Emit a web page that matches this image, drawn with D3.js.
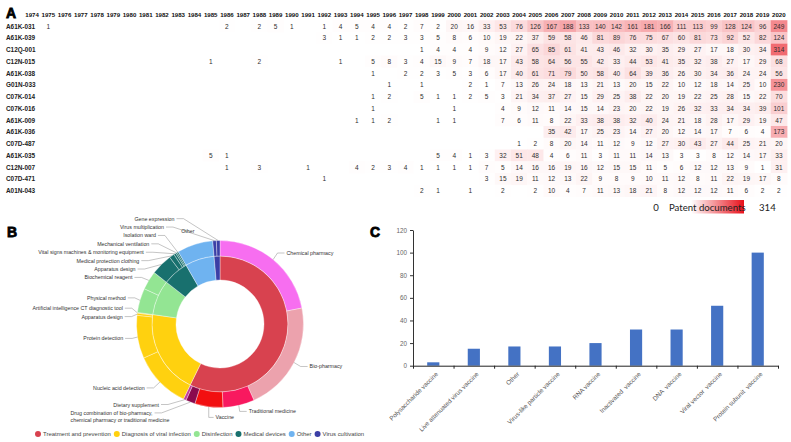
<!DOCTYPE html>
<html>
<head>
<meta charset="utf-8">
<script src="https://cdn.jsdelivr.net/npm/d3@7"></script>
<style>
  body { margin: 0; background: #fff; }
  svg { display: block; font-family: "Liberation Sans", Arial, sans-serif; }
  .pre { white-space: pre; }
</style>
</head>
<body>
<script>
// ---- A: patent heatmap data
const years = [1974, 1975, 1976, 1977, 1978, 1979, 1980, 1981, 1982, 1983, 1984, 1985, 1986, 1987, 1988, 1989,
  1990, 1991, 1992, 1993, 1994, 1995, 1996, 1997, 1998, 1999, 2000, 2001, 2002, 2003, 2004, 2005, 2006, 2007,
  2008, 2009, 2010, 2011, 2012, 2013, 2014, 2015, 2016, 2017, 2018, 2019, 2020];
const codes = ["A61K-031", "A61K-039", "C12Q-001", "C12N-015", "A61K-038", "G01N-033", "C07K-014", "C07K-016",
  "A61K-009", "A61K-036", "C07D-487", "A61K-035", "C12N-007", "C07D-471", "A01N-043"];
// 0 = empty cell
const rowA61K031 = [0,1,0,0,0,0,0,0,0,0,0,0, 2,0,2,5,1,0, 1,4,5,4,4,2,7,2,20,16,33,53,76, 126,167,188,133,140,142,161,181,166,111,113,99,128,124,96,249];
const rowA61K039 = [0,0,0,0,0,0,0,0,0,0,0,0, 0,0,0,0,0,0, 3,1,1,2,2,3,3,5,8,6,10,19,22, 37,59,58,46,81,89,76,75,67,60,81,73,92,52,82,124];
const rowC12Q001 = [0,0,0,0,0,0,0,0,0,0,0,0, 0,0,0,0,0,0, 0,0,0,0,0,0,1,4,4,4,9,12,27, 65,85,61,41,43,46,32,30,35,29,27,17,18,30,34,314];
const rowC12N015 = [0,0,0,0,0,0,0,0,0,0,0,1, 0,0,2,0,0,0, 0,1,0,5,8,3,4,15,9,7,18,17,43, 58,64,56,55,42,33,44,53,41,35,32,38,27,17,29,68];
const rowA61K038 = [0,0,0,0,0,0,0,0,0,0,0,0, 0,0,0,0,0,0, 0,0,0,1,0,2,2,3,5,3,6,17,40, 61,71,79,50,58,40,64,39,36,26,30,34,36,24,24,56];
const rowG01N033 = [0,0,0,0,0,0,0,0,0,0,0,0, 0,0,0,0,0,0, 0,0,0,0,1,0,1,0,0,2,1,7,13, 26,24,18,13,21,13,20,15,22,10,12,18,14,25,10,230];
const rowC07K014 = [0,0,0,0,0,0,0,0,0,0,0,0, 0,0,0,0,0,0, 0,0,0,1,2,0,5,1,1,2,5,3,21, 34,37,27,15,29,25,38,22,20,19,22,25,28,15,22,70];
const rowC07K016 = [0,0,0,0,0,0,0,0,0,0,0,0, 0,0,0,0,0,0, 0,0,0,1,0,0,0,0,1,0,0,4,9, 12,11,14,15,14,23,20,22,19,26,32,33,34,34,39,101];
const rowA61K009 = [0,0,0,0,0,0,0,0,0,0,0,0, 0,0,0,0,0,0, 0,0,1,1,2,0,0,1,1,0,0,7,6, 11,8,22,33,38,38,32,40,24,21,18,28,17,29,19,47];
const rowA61K036 = [0,0,0,0,0,0,0,0,0,0,0,0, 0,0,0,0,0,0, 0,0,0,0,0,0,0,0,0,0,0,0,0, 0,35,42,17,25,23,14,27,20,12,14,17,7,6,4,173];
const rowC07D487 = [0,0,0,0,0,0,0,0,0,0,0,0, 0,0,0,0,0,0, 0,0,0,0,0,0,0,0,0,0,0,0,1, 2,8,20,14,11,12,9,12,27,30,43,27,44,25,21,20];
const rowA61K035 = [0,0,0,0,0,0,0,0,0,0,0,5, 1,0,0,0,0,0, 0,0,0,0,0,0,0,5,4,1,3,32,51, 48,4,6,11,3,11,11,14,13,3,3,8,12,14,17,33];
const rowC12N007 = [0,0,0,0,0,0,0,0,0,0,0,0, 1,0,3,0,0,1, 0,0,4,2,3,4,1,1,1,1,7,5,14, 16,16,19,16,12,15,15,11,5,6,12,12,13,9,1,31];
const rowC07D471 = [0,0,0,0,0,0,0,0,0,0,0,0, 0,0,0,0,0,0, 1,0,0,0,0,0,0,0,0,0,3,15,19, 11,12,13,22,9,8,9,10,11,12,8,11,22,19,17,8];
const rowA01N043 = [0,0,0,0,0,0,0,0,0,0,0,0, 0,0,0,0,0,0, 0,0,0,0,0,0,2,1,0,1,0,2,0, 2,10,4,7,11,13,18,21,8,12,12,12,11,6,2,2];
const counts = [rowA61K031, rowA61K039, rowC12Q001, rowC12N015, rowA61K038, rowG01N033, rowC07K014, rowC07K016,
  rowA61K009, rowA61K036, rowC07D487, rowA61K035, rowC12N007, rowC07D471, rowA01N043];
const legendRange = [0, 314];

// ---- B: sunburst data (shares in degrees of the ring)
const mainCats = ["Treatment and prevention", "Diagnosis of viral infection", "Disinfection", "Medical devices", "Other", "Virus cultivation"];
const mainColors = ["#d8424f", "#ffd10f", "#93e593", "#18706e", "#6fb3f0", "#3b3fa6"];
const subNames = ["Chemical pharmacy", "Bio-pharmacy", "Traditional medicine", "Vaccine",
  "Drug combination of bio-pharmacy,|chemical pharmacy or traditional medicine", "Dietary supplement",
  "Nucleic acid detection", "Protein detection", "Apparatus design", "Artificial intelligence CT diagnostic tool",
  "Physical method", "Biochemical reagent",
  "Apparatus design", "Medical protection clothing", "Vital signs machines & monitoring equipment", "Mechanical ventilation", "Isolation ward",
  "Other",
  "Virus multiplication", "Gene expression"];
const subParents = [0, 0, 0, 0, 0, 0, 1, 1, 1, 1, 2, 2, 3, 3, 3, 3, 3, 4, 5, 5];
const subShares = [79, 77, 22, 19.5, 6.5, 2, 40, 30, 1.5, 0.5, 17, 13, 15, 3.5, 1.5, 1, 1, 25, 2.5, 2.5];
const subColors = ["#f76ef0", "#eca2ad", "#f8195f", "#f20f10", "#8a0a4e", "#c23d9e"];

// ---- C: vaccine bar data
const vaccineTypes = ["Polysaccharide vaccine", "Live attenuated virus vaccine", "Other", "Virus-like particle vaccine",
  "RNA vaccine", "Inactivated  vaccine", "DNA  vaccine", "Viral vector  vaccine", "Protein subunit  vaccine"];
const vaccineCounts = [3, 15, 17, 17, 20, 32, 32, 53, 100];
const yTicks = [0, 20, 40, 60, 80, 100, 120];

const width = 791, height = 442;
const svg = d3.select("body").append("svg").attr("width", width).attr("height", height);

const panelLetter = (t, x, y) => svg.append("text").attr("x", x).attr("y", y).text(t)
  .attr("font-size", 14).attr("font-weight", 900).attr("fill", "#000")
  .attr("stroke", "#000").attr("stroke-width", 0.8);

// ================= A =================
const hx = d3.scaleBand().domain(years).range([24, 787]);
const hy = d3.scaleBand().domain(codes).range([20.2, 196.5]);
const heat = v => d3.interpolateRgb("#ffffff", "#e8101a")(0.62 * v / legendRange[1]);

const cells = codes.flatMap((c, i) => years.map((yr, j) => ({code: c, year: yr, v: counts[i][j]})))
  .filter(d => d.v > 0);

const gA = svg.append("g");
gA.append("g").selectAll("rect").data(cells).join("rect")
  .attr("x", d => hx(d.year)).attr("y", d => hy(d.code))
  .attr("width", hx.bandwidth() + 0.4).attr("height", hy.bandwidth() + 0.4)
  .attr("fill", d => heat(d.v));

gA.append("g").selectAll("text").data(cells).join("text")
  .attr("x", d => hx(d.year) + hx.bandwidth() / 2).attr("y", d => hy(d.code) + hy.bandwidth() / 2)
  .attr("text-anchor", "middle").attr("dominant-baseline", "central")
  .attr("font-size", 6.5).attr("fill", "#2f2f2f").text(d => d.v);

gA.append("g").selectAll("text").data(years).join("text")
  .attr("x", d => hx(d) + hx.bandwidth() / 2).attr("y", 14)
  .attr("text-anchor", "middle").attr("dominant-baseline", "central")
  .attr("font-size", 6.1).attr("font-weight", "bold").attr("fill", "#111").text(d => d);

gA.append("g").selectAll("text").data(codes).join("text")
  .attr("x", 6).attr("y", d => hy(d) + hy.bandwidth() / 2)
  .attr("dominant-baseline", "central")
  .attr("font-size", 6.4).attr("font-weight", "bold").attr("fill", "#222").text(d => d);

panelLetter("A", 6, 18);

// legend
const grad = svg.append("defs").append("linearGradient").attr("id", "heatGrad");
grad.append("stop").attr("offset", "0%").attr("stop-color", "#ffffff");
grad.append("stop").attr("offset", "100%").attr("stop-color", "#e8101a");
const legY = 207;
gA.append("rect").attr("x", 691).attr("y", legY - 7).attr("width", 53).attr("height", 13.5).attr("fill", "url(#heatGrad)");
const legText = [[656, legendRange[0], "middle"], [669, "Patent documents", "start"], [759, legendRange[1], "start"]];
gA.append("g").selectAll("text").data(legText).join("text")
  .attr("x", d => d[0]).attr("y", legY).attr("text-anchor", d => d[2]).attr("dominant-baseline", "central")
  .attr("font-family", "Lato, 'Open Sans', sans-serif").attr("font-size", 9.6).attr("fill", "#222").text(d => d[1]);

// ================= B =================
const cx = 220, cy = 324;
const r0 = 44, r1 = 68, r2 = 83.5;
const subs = subNames.map((n, i) => ({
  name: n, lines: n.split("|"), parent: subParents[i], v: subShares[i],
  color: subColors[i] || mainColors[subParents[i]]
}));
const mains = mainCats.map((c, i) => ({name: c, color: mainColors[i], v: d3.sum(subs.filter(s => s.parent === i), s => s.v)}));

const pie = d3.pie().sort(null).value(d => d.v);
const innerArcs = pie(mains);
const outerArcs = pie(subs);
const arcIn = d3.arc().innerRadius(r0).outerRadius(r1);
const arcOut = d3.arc().innerRadius(r1).outerRadius(r2);

const gB = svg.append("g").attr("transform", `translate(${cx},${cy})`);
gB.selectAll("path.in").data(innerArcs).join("path").attr("class", "in")
  .attr("d", arcIn).attr("fill", d => d.data.color).attr("stroke", "#fff").attr("stroke-width", 0.5).attr("stroke-opacity", 0.7);
gB.selectAll("path.out").data(outerArcs).join("path").attr("class", "out")
  .attr("d", arcOut).attr("fill", d => d.data.color).attr("stroke", "#fff").attr("stroke-width", 0.5).attr("stroke-opacity", 0.7);

const pt = (a, r) => [cx + r * Math.sin(a), cy - r * Math.cos(a)];
const splitAngle = 195 * Math.PI / 180;
const lineH = 6.6, labelSize = 5.3;

const labels = outerArcs.map(d => {
  const mid = (d.startAngle + d.endAngle) / 2;
  const side = mid < splitAngle ? 1 : -1;
  const anchor = pt(mid, r2);
  const radial = pt(mid, 92);
  return {name: d.data.name, lines: d.data.lines, mid, side, anchor, radialX: radial[0], y: radial[1]};
});

function relax(list, gap) {
  list.sort((a, b) => a.y - b.y);
  for (let it = 0; it < 300; it++) {
    let moved = false;
    for (let i = 1; i < list.length; i++) {
      const a = list[i - 1], b = list[i];
      const need = a.y + (a.lines.length - 1) * lineH + gap - b.y;
      if (need > 0.01) { a.y -= need / 2; b.y += need / 2; moved = true; }
    }
    if (!moved) break;
  }
}
const otherLabel = labels.filter(l => l.name === "Other");
const leftLabels = labels.filter(l => l.side < 0 && l.name !== "Other");
const rightLabels = labels.filter(l => l.side > 0 && l.name !== "Other");
relax(leftLabels, 8.4);
relax(rightLabels, 6);

const gL = svg.append("g").attr("font-size", labelSize).attr("fill", "#333");
leftLabels.forEach(l => {
  const dy = l.y - cy;
  const b = dy < 0 ? 120 : 105;
  const ell = cx - 95 * Math.sqrt(Math.max(0, 1 - (dy / b) ** 2));
  const end = Math.min(l.radialX - 6, ell);
  const t = gL.append("text").attr("y", l.y).attr("dominant-baseline", "central");
  let lineEnd = end;
  if (l.lines.length === 1) {
    t.attr("x", end).attr("text-anchor", "end").text(l.name);
  } else {
    const spans = l.lines.map((s, i) => t.append("tspan").attr("dy", i ? lineH : 0).text(s));
    const widths = spans.map(s => s.node().getComputedTextLength());
    const w = d3.max(widths);
    spans.forEach(s => s.attr("x", end - w));
    lineEnd = end - w + widths[0];
  }
  const elbowX = Math.min(l.anchor[0], lineEnd + 9);
  gL.append("path").attr("fill", "none").attr("stroke", "#8a8a8a").attr("stroke-width", 0.5)
    .attr("d", d3.line()([l.anchor, [elbowX, l.y], [lineEnd + 2, l.y]]));
});
rightLabels.forEach(l => {
  const start = l.radialX + 8;
  gL.append("text").attr("x", start).attr("y", l.y).attr("dominant-baseline", "central").text(l.name);
  const elbowX = Math.max(l.anchor[0], start - 9);
  gL.append("path").attr("fill", "none").attr("stroke", "#8a8a8a").attr("stroke-width", 0.5)
    .attr("d", d3.line()([l.anchor, [elbowX, l.y], [start - 2, l.y]]));
});
otherLabel.forEach(l => {
  const p = pt(l.mid, 97);
  gL.append("text").attr("x", p[0] - 3).attr("y", p[1]).attr("text-anchor", "middle")
    .attr("dominant-baseline", "central").text(l.name);
});

panelLetter("B", 7, 237);

// legend B
const gLeg = svg.append("g").attr("font-size", 5.95).attr("fill", "#444");
let lx = 38;
mains.forEach(m => {
  gLeg.append("circle").attr("cx", lx).attr("cy", 434).attr("r", 3).attr("fill", m.color);
  const t = gLeg.append("text").attr("x", lx + 5).attr("y", 434).attr("dominant-baseline", "central").text(m.name);
  lx += 5 + t.node().getComputedTextLength() + 6;
});

// ================= C =================
const bx = d3.scaleBand().domain(vaccineTypes).range([413, 778]);
const by = d3.scaleLinear().domain([0, 120]).range([365.7, 230]);
const gC = svg.append("g");
const barW = bx.bandwidth() * 0.3;

gC.selectAll("rect").data(vaccineTypes).join("rect")
  .attr("x", (d) => bx(d) + (bx.bandwidth() - barW) / 2)
  .attr("y", (d, i) => by(vaccineCounts[i]))
  .attr("width", barW)
  .attr("height", (d, i) => by(0) - by(vaccineCounts[i]))
  .attr("fill", "#4472c4");

const tickScale = d3.scaleLinear().domain([0, vaccineTypes.length]).range(bx.range());
gC.append("g").attr("transform", `translate(0,${by(0)})`)
  .call(d3.axisBottom(tickScale).tickValues(d3.range(vaccineTypes.length + 1)).tickFormat("").tickSize(3).tickSizeOuter(0))
  .call(g => g.selectAll("path,line").attr("stroke", "#222"));

gC.append("g").attr("transform", `translate(${bx.range()[0]},0)`)
  .call(d3.axisLeft(by).tickValues(yTicks).tickSize(3).tickSizeOuter(0).tickPadding(3))
  .call(g => g.selectAll("path,line").attr("stroke", "#333"))
  .call(g => g.selectAll("text").attr("font-size", 6.3).attr("fill", "#666").attr("font-family", "Liberation Sans"));

gC.append("g").selectAll("text").data(vaccineTypes).join("text")
  .attr("class", "pre").attr("xml:space", "preserve")
  .attr("transform", d => `translate(${bx(d) + bx.bandwidth() / 2 + 3.5},${by(0) + 7}) rotate(-45)`)
  .attr("text-anchor", "end").attr("dominant-baseline", "central")
  .attr("font-size", 6.3).attr("fill", "#595959").text(d => d);

panelLetter("C", 370, 237);
</script>
</body>
</html>
